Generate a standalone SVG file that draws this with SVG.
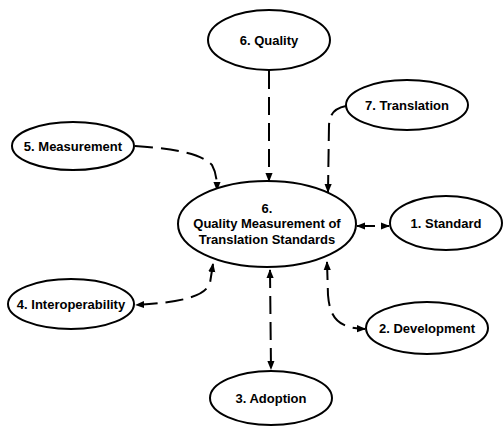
<svg xmlns="http://www.w3.org/2000/svg" width="504" height="428" viewBox="0 0 504 428">
<defs>
<marker id="ah" viewBox="0 0 10 10" refX="9" refY="5" markerWidth="4.5" markerHeight="4.5" orient="auto-start-reverse">
<path d="M0,1 L10,5 L0,9 z" fill="#000"/>
</marker>
<style>
.n{fill:#fff;stroke:#000;stroke-width:2}
.t{font-family:"Liberation Sans",Arial,sans-serif;font-size:13px;font-weight:bold;fill:#000;text-anchor:middle}
.c{fill:none;stroke:#000;stroke-width:2;stroke-dasharray:18 8}
</style>
</defs>
<rect width="504" height="428" fill="#fff"/>
<g id="connectors">
<path class="c" d="M269,71 L269,181" marker-end="url(#ah)"/>
<path class="c" d="M346,106 C336,108 330,112 329,125 L328,192" marker-end="url(#ah)"/>
<path class="c" d="M135,146 C165,148 200,152 212,165 C216,172 217,180 217,190" marker-end="url(#ah)"/>
<path class="c" d="M213,264 L210,283 C205,296 185,302 136,305" marker-start="url(#ah)" marker-end="url(#ah)"/>
<path class="c" d="M270,270 L271,369" marker-start="url(#ah)" marker-end="url(#ah)"/>
<path class="c" d="M327,262 L328,295 C330,320 340,328 365,329" marker-start="url(#ah)" marker-end="url(#ah)"/>
<path class="c" d="M357,226 L389,226" marker-start="url(#ah)" marker-end="url(#ah)"/>
</g>
<g id="center">
<ellipse class="n" cx="267" cy="224" rx="89" ry="43"/>
<text class="t" x="267" y="213">6.</text>
<text class="t" x="267" y="228">Quality Measurement of</text>
<text class="t" x="267" y="244">Translation Standards</text>
</g>
<g id="quality">
<ellipse class="n" cx="269" cy="40" rx="61" ry="30"/>
<text class="t" x="269" y="45">6. Quality</text>
</g>
<g id="translation">
<ellipse class="n" cx="407" cy="105" rx="61" ry="25"/>
<text class="t" x="407" y="110">7. Translation</text>
</g>
<g id="measurement">
<ellipse class="n" cx="73" cy="146" rx="61" ry="24"/>
<text class="t" x="73" y="151">5. Measurement</text>
</g>
<g id="standard">
<ellipse class="n" cx="446" cy="223" rx="56" ry="27"/>
<text class="t" x="446" y="228">1. Standard</text>
</g>
<g id="interoperability">
<ellipse class="n" cx="71" cy="304" rx="63" ry="25"/>
<text class="t" x="71" y="309">4. Interoperability</text>
</g>
<g id="development">
<ellipse class="n" cx="427" cy="328" rx="61" ry="26"/>
<text class="t" x="427" y="333">2. Development</text>
</g>
<g id="adoption">
<ellipse class="n" cx="271" cy="398" rx="61" ry="27"/>
<text class="t" x="271" y="403">3. Adoption</text>
</g>
</svg>
